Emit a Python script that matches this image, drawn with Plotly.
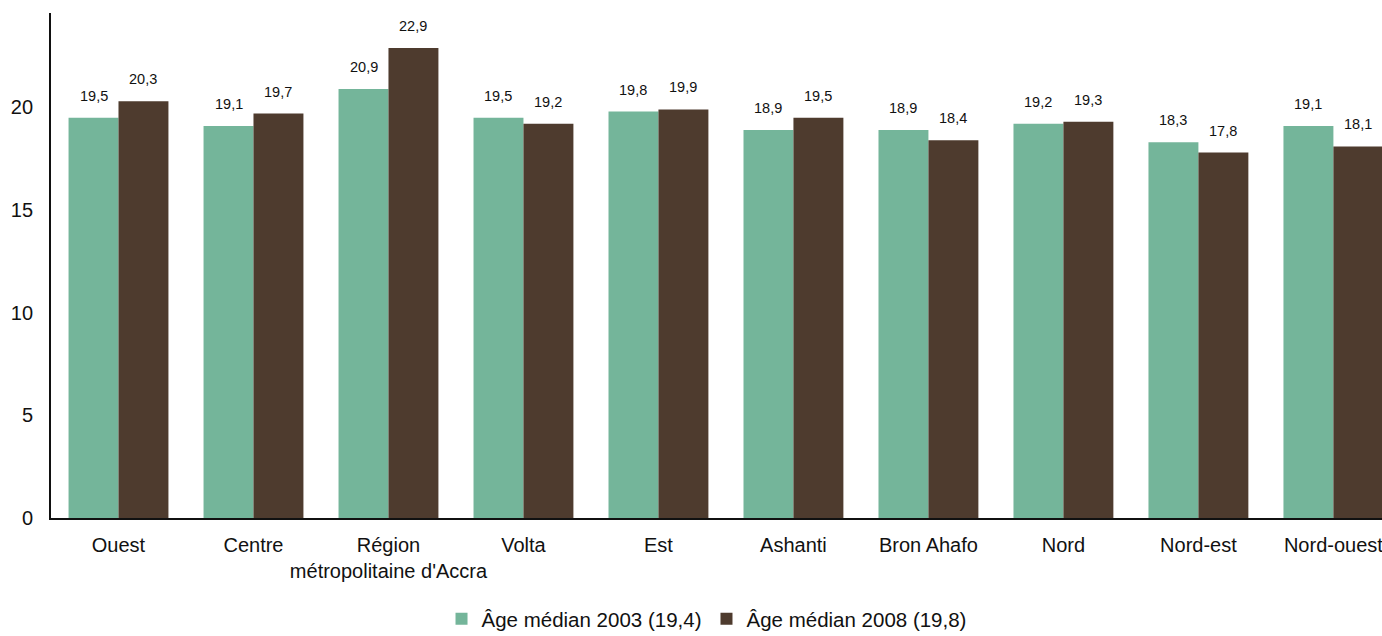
import plotly.graph_objects as go

regions = ["Ouest", "Centre", "Région<br>métropolitaine d'Accra", "Volta", "Est",
           "Ashanti", "Bron Ahafo", "Nord", "Nord-est", "Nord-ouest"]
age_2003 = [19.5, 19.1, 20.9, 19.5, 19.8, 18.9, 18.9, 19.2, 18.3, 19.1]
age_2008 = [20.3, 19.7, 22.9, 19.2, 19.9, 19.5, 18.4, 19.3, 17.8, 18.1]
name_2003 = "Âge médian 2003 (19,4)"
name_2008 = "Âge médian 2008 (19,8)"
y_ticks = [0, 5, 10, 15, 20]

green = "#74B59A"
brown = "#4E3B2E"
font_family = "Liberation Sans, Arial, sans-serif"

def fr(v):
    return f"{v:.1f}".replace(".", ",")

x_pos = list(range(len(regions)))

fig = go.Figure()
fig.add_trace(go.Bar(x=x_pos, y=age_2003, name=name_2003, marker_color=green,
                     marker_line_width=0))
fig.add_trace(go.Bar(x=x_pos, y=age_2008, name=name_2008, marker_color=brown,
                     marker_line_width=0))

# value labels above each bar
annotations = []
for series, offset in ((age_2003, -0.185), (age_2008, 0.185)):
    for i, v in enumerate(series):
        annotations.append(dict(
            x=i + offset, y=v, xref="x", yref="y", text=fr(v),
            showarrow=False, yanchor="middle", yshift=22,
            font=dict(size=14.5, color="#111111", family=font_family)))

fig.update_layout(
    width=1382, height=636,
    margin=dict(l=51, r=0, t=13, b=118, autoexpand=False),
    paper_bgcolor="white", plot_bgcolor="white",
    barmode="group", bargap=0.26, bargroupgap=0,
    font=dict(family=font_family, size=20, color="#111111"),
    annotations=annotations,
    legend=dict(orientation="h", x=0.4925, xanchor="center", y=-0.2,
                yanchor="middle", font=dict(size=20.5), itemwidth=30,
                traceorder="normal"),
    xaxis=dict(tickmode="array", tickvals=x_pos, ticktext=regions,
               range=[-0.5, 9.36], showline=True, linecolor="#111111",
               linewidth=1.8, ticks="", showgrid=False, zeroline=False,
               tickfont=dict(size=20), ticklabelstandoff=8,
               ticklabeloverflow="allow"),
    yaxis=dict(range=[0, 24.6], tickvals=y_ticks, showline=True,
               linecolor="#111111", linewidth=1.8, ticks="", showgrid=False,
               zeroline=False, tickfont=dict(size=20), ticklabelstandoff=12),
)

fig.write_html("out.html")
